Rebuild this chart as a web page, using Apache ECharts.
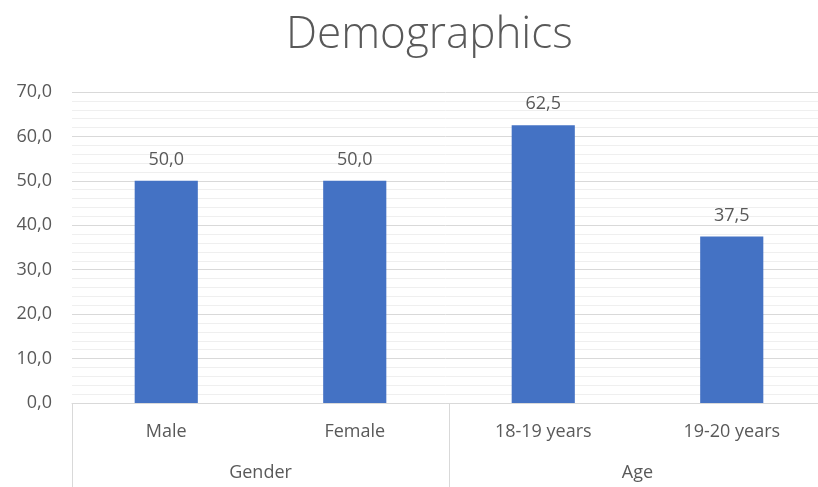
<!DOCTYPE html>
<html>
<head>
<meta charset="utf-8">
<script src="https://cdn.jsdelivr.net/npm/echarts@6/dist/echarts.min.js"></script>
<style>
  html, body { margin: 0; padding: 0; background: #fff; }
  #chart { width: 818px; height: 487px; }
</style>
</head>
<body>
<div id="chart"></div>
<script>
// Survey demographics: share of respondents (%)
const categories = ['Male', 'Female', '18-19 years', '19-20 years'];
const values = [50.0, 50.0, 62.5, 37.5];
const groups = ['Gender', 'Age'];

const TEXT = '#595959';
const FONT = '"Open Sans", "Noto Sans", sans-serif';
const fmt = v => Number(v).toFixed(1).replace('.', ',');

const chart = echarts.init(document.getElementById('chart'));
chart.setOption({
  animation: false,
  title: {
    text: 'Demographics',
    left: 281,
    top: 8,
    textStyle: { color: TEXT, fontFamily: FONT, fontSize: 44, fontWeight: 300 }
  },
  // plot area runs slightly past the right edge of the canvas
  grid: { left: 72, right: -8, top: 92, bottom: 84, containLabel: false, outerBoundsMode: 'none' },
  xAxis: [
    {
      type: 'category',
      data: categories,
      position: 'bottom',
      axisLine: { show: true, lineStyle: { color: '#d9d9d9', width: 1 } },
      axisTick: { show: false },
      axisLabel: { color: TEXT, fontFamily: FONT, fontSize: 18, margin: 20 }
    },
    {
      type: 'category',
      data: groups,
      position: 'bottom',
      axisLine: { show: false },
      axisTick: { show: true, length: 90, lineStyle: { color: '#d9d9d9', width: 1 } },
      axisLabel: { color: TEXT, fontFamily: FONT, fontSize: 18, margin: 61 }
    }
  ],
  yAxis: {
    type: 'value',
    min: 0,
    max: 70,
    interval: 10,
    axisLine: { show: false },
    axisTick: { show: false },
    axisLabel: { color: TEXT, fontFamily: FONT, fontSize: 18, margin: 20, formatter: fmt },
    splitLine: { show: true, lineStyle: { color: '#d9d9d9', width: 1 } },
    minorTick: { show: false, splitNumber: 5 },
    minorSplitLine: { show: true, lineStyle: { color: '#efefef', width: 1 } }
  },
  series: [{
    type: 'bar',
    data: values,
    xAxisIndex: 0,
    barWidth: '33.5%',
    itemStyle: { color: '#4472c4' },
    label: {
      show: true,
      position: 'top',
      distance: 12,
      color: TEXT,
      fontFamily: FONT,
      fontSize: 18,
      formatter: p => fmt(p.value)
    }
  }]
});
</script>
</body>
</html>
